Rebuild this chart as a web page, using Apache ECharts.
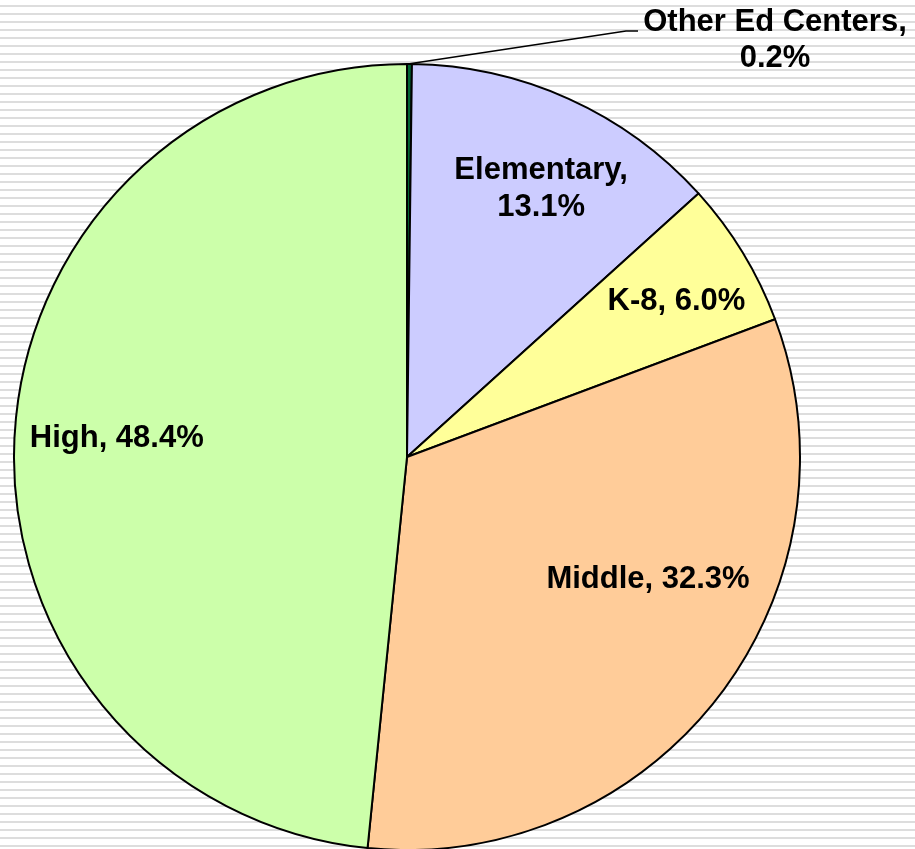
<!DOCTYPE html>
<html>
<head>
<meta charset="utf-8">
<script src="https://cdn.jsdelivr.net/npm/echarts@6/dist/echarts.min.js"></script>
<style>
html,body{margin:0;padding:0;background:#fff;}
#chart{width:915px;height:849px;}
</style>
</head>
<body>
<div id="chart"></div>
<script>
var categories = ['Other Ed Centers', 'Elementary', 'K-8', 'Middle', 'High'];
var values = [0.2, 13.1, 6.0, 32.3, 48.4];
var colors = ['#006633', '#CCCCFF', '#FFFF99', '#FFCC99', '#CCFFAA'];

var W = 915, H = 849;
var cx = 407, cy = 457, R = 393;

// label placement offsets (styling, relative to library's inside position)
var labelOffsets = [null, [52, -86], [99, -52], [83, 1], [-91, -9]];

var stripes = [];
for (var y = 5; y < H; y += 8) {
  stripes.push({type: 'rect', silent: true, z: -10,
    shape: {x: 0, y: y, width: W, height: 2},
    style: {fill: '#DDDDDD'}});
}

var data = categories.map(function (c, i) {
  var item = {name: c, value: values[i], itemStyle: {color: colors[i]}};
  if (i === 0) {
    item.label = {
      position: 'outside',
      align: 'center',
      lineHeight: 36
    };
    item.labelLine = {show: true, lineStyle: {color: '#000', width: 1.5}};
  } else {
    item.label = {position: 'inside', offset: labelOffsets[i]};
    item.labelLine = {show: false};
  }
  return item;
});

var chart = echarts.init(document.getElementById('chart'), null, {renderer: 'canvas'});
chart.setOption({
  backgroundColor: '#FFFFFF',
  animation: false,
  graphic: stripes,
  series: [{
    type: 'pie',
    center: [cx, cy],
    radius: [0, R],
    startAngle: 90,
    clockwise: true,
    avoidLabelOverlap: false,
    minAngle: 0,
    itemStyle: {borderColor: '#000', borderWidth: 2},
    label: {
      show: true,
      color: '#000',
      fontFamily: '"Liberation Sans", Arial, sans-serif',
      fontWeight: 'bold',
      fontSize: 31,
      lineHeight: 37,
      formatter: function (p) {
        if (p.name === 'Elementary' || p.dataIndex === 0) return p.name + ',\n' + p.value.toFixed(1) + '%';
        return p.name + ', ' + p.value.toFixed(1) + '%';
      }
    },
    labelLayout: function (params) {
      if (params.dataIndex === 0) {
        return {x: 775, y: 40, align: 'center', verticalAlign: 'middle',
          labelLinePoints: [[408, 64], [626, 31], [638, 31]]};
      }
      return {};
    },
    emphasis: {disabled: true},
    data: data
  }]
});
</script>
</body>
</html>
